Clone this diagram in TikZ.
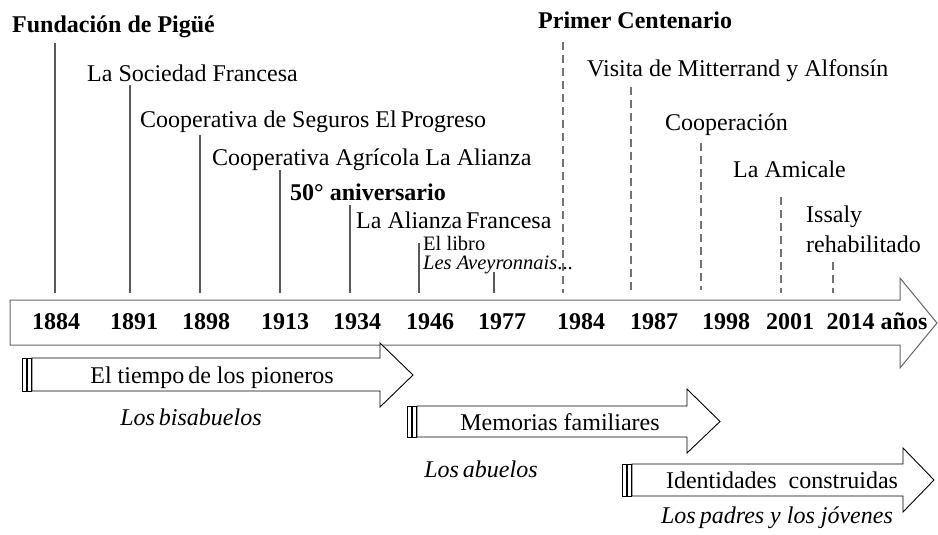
\documentclass[tikz,border=0pt]{standalone}
\usepackage{fontspec}
\setmainfont{Liberation Serif}
\begin{document}
\begin{tikzpicture}[x=1pt,y=-1pt,
  lbl/.style={inner sep=0pt, anchor=base west, font=\fontsize{24}{28}\selectfont},
  blbl/.style={inner sep=0pt, anchor=base west, font=\fontsize{24}{28}\selectfont\bfseries},
  slbl/.style={inner sep=0pt, anchor=base west, font=\fontsize{20.5}{24}\selectfont},
  yr/.style={inner sep=0pt, anchor=base, font=\fontsize{24}{28}\selectfont\bfseries},
  per/.style={inner sep=0pt, anchor=base, font=\fontsize{24}{28}\selectfont},
  sub/.style={inner sep=0pt, anchor=base, font=\fontsize{24}{28}\selectfont\itshape},
  tick/.style={draw=black!65, line width=1.6pt},
  dtick/.style={draw=black!55, line width=1.3pt, dash pattern=on 8pt off 5pt},
  bigarrow/.style={draw=black!60, line width=1pt, fill=white},
  period/.style={draw=black, line width=0.9pt, fill=white}]
\useasboundingbox (0,0) rectangle (938,535);

% main timeline arrow
\draw[bigarrow] (10,300) -- (900,300) -- (900,278) -- (937,323) -- (900,368) -- (900,345) -- (10,345) -- cycle;

% period arrows
\draw[period] (32,358) -- (380,358) -- (380,343) -- (413,375) -- (380,407) -- (380,391) -- (32,391) -- cycle;
\draw[period] (22,358) rectangle (26,391);
\draw[period] (27.5,358) rectangle (31.5,391);

\draw[period] (417,406) -- (687,406) -- (687,389) -- (720,421.5) -- (687,453) -- (687,437) -- (417,437) -- cycle;
\draw[period] (407,406) rectangle (411,437);
\draw[period] (412.5,406) rectangle (416.5,437);

\draw[period] (632,464) -- (903,464) -- (903,448) -- (934,480) -- (903,512) -- (903,496) -- (632,496) -- cycle;
\draw[period] (622,464) rectangle (626,496);
\draw[period] (627.5,464) rectangle (631.5,496);

% event labels
\node[blbl] (e1884) at (12,33) {Fundación de Pigüé};
\node[lbl] (e1891) at (87,82) {La Sociedad Francesa};
\node[lbl] (e1898) at (140,128) {Cooperativa de Seguros El\,Progreso};
\node[lbl] (e1913) at (212,165) {Cooperativa Agrícola La Alianza};
\node[blbl] (e1934a) at (290,200) {50° aniversario};
\node[lbl] (e1934) at (356,228) {La Alianza\,Francesa};
\node[slbl] (e1946) at (423,250) {El libro};
\node[slbl] (e1977) at (423,269) {\textit{Les Aveyronnais}...};
\node[blbl] (e1984) at (538,29) {Primer Centenario};
\node[lbl] (e1987) at (587,77) {Visita de Mitterrand y Alfonsín};
\node[lbl] (e1998) at (665,131) {Cooperación};
\node[lbl] (e2001) at (733,177) {La Amicale};
\node[lbl] (e2014a) at (806,222) {Issaly};
\node[lbl] (e2014) at (806,252) {rehabilitado};

% tick coordinates
\coordinate (k1884t) at (55,43);   \coordinate (k1884) at (55,293);
\coordinate (k1891t) at (130,85);  \coordinate (k1891) at (130,293);
\coordinate (k1898t) at (200,135); \coordinate (k1898) at (200,293);
\coordinate (k1913t) at (280,170); \coordinate (k1913) at (280,293);
\coordinate (k1934t) at (350,205); \coordinate (k1934) at (350,293);
\coordinate (k1946t) at (419,243); \coordinate (k1946) at (419,293);
\coordinate (k1977t) at (494,272); \coordinate (k1977) at (494,293);
\coordinate (k1984t) at (563,42);  \coordinate (k1984) at (563,293);
\coordinate (k1987t) at (631,87);  \coordinate (k1987) at (631,290);
\coordinate (k1998t) at (701,143); \coordinate (k1998) at (701,290);
\coordinate (k2001t) at (781,197); \coordinate (k2001) at (781,293);
\coordinate (k2014t) at (833,262); \coordinate (k2014) at (833,293);

\foreach \k in {1884,1891,1898,1913,1934,1946,1977}
  \draw[tick] (k\k t) -- (k\k);
\foreach \k in {1984,1987,1998,2001,2014}
  \draw[dtick] (k\k t) -- (k\k);

% years
\node[yr] (y1884) at (56,329) {1884};
\node[yr] (y1891) at (134,329) {1891};
\node[yr] (y1898) at (206,329) {1898};
\node[yr] (y1913) at (285,329) {1913};
\node[yr] (y1934) at (357,329) {1934};
\node[yr] (y1946) at (430,329) {1946};
\node[yr] (y1977) at (502,329) {1977};
\node[yr] (y1984) at (581,329) {1984};
\node[yr] (y1987) at (654,329) {1987};
\node[yr] (y1998) at (726,329) {1998};
\node[yr] (y2001) at (790,329) {2001};
\node[yr] (y2014) at (877,329) {2014 años};

% period labels
\node[per] (p1) at (212,383) {El tiempo\,de los pioneros};
\node[sub] (g1) at (191,425) {Los\,bisabuelos};
\node[per] (p2) at (560,430) {Memorias familiares};
\node[sub] (g2) at (481,477) {Los\,abuelos};
\node[per] (p3) at (782,488) {Identidades\ \ construidas};
\node[sub] (g3) at (777,523) {Los\,padres y los jóvenes};
\end{tikzpicture}
\end{document}
